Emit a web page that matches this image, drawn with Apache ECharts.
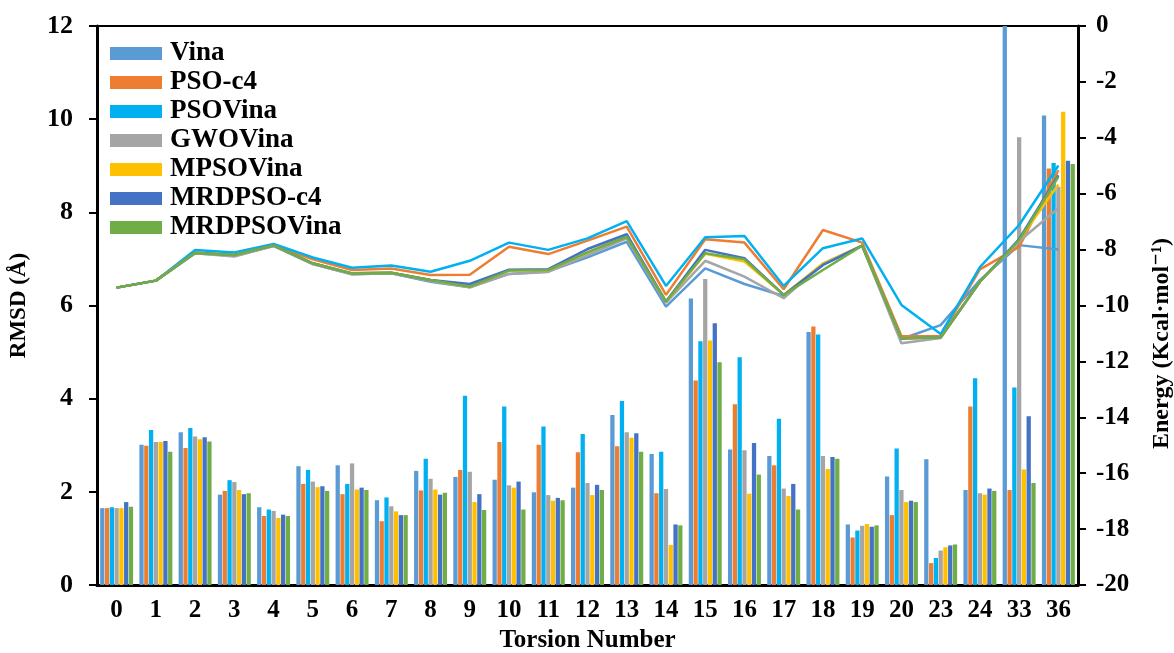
<!DOCTYPE html>
<html>
<head>
<meta charset="utf-8">
<script src="https://cdn.jsdelivr.net/npm/echarts@6/dist/echarts.min.js"></script>
<style>
  html, body { margin: 0; padding: 0; background: #fff; }
  #chart { width: 1174px; height: 653px; }
</style>
</head>
<body>
<div id="chart"></div>
<script>
  // torsion numbers on the x axis
  var torsions = ['0', '1', '2', '3', '4', '5', '6', '7', '8', '9', '10', '11', '12', '13', '14', '15', '16', '17', '18', '19', '20', '23', '24', '33', '36'];
  var methods = ['Vina', 'PSO-c4', 'PSOVina', 'GWOVina', 'MPSOVina', 'MRDPSO-c4', 'MRDPSOVina'];
  var colors = ['#5B9BD5', '#ED7D31', '#00B0F0', '#A5A5A5', '#FFC000', '#4472C4', '#70AD47'];

  // RMSD (bars, left axis)
  var rmsdVina       = [1.65, 3.01, 3.28, 1.94, 1.67, 2.55, 2.57, 1.82, 2.45, 2.32, 2.26, 1.99, 2.09, 3.65, 2.81, 6.15, 2.91, 2.77, 5.43, 1.30, 2.33, 2.70, 2.04, 12.0, 10.08];
  var rmsdPSOc4      = [1.65, 2.99, 2.94, 2.02, 1.48, 2.17, 1.95, 1.37, 2.03, 2.47, 3.07, 3.01, 2.85, 2.98, 1.97, 4.39, 3.88, 2.57, 5.55, 1.02, 1.50, 0.47, 3.83, 2.04, 8.94];
  var rmsdPSOVina    = [1.67, 3.33, 3.37, 2.25, 1.62, 2.47, 2.17, 1.88, 2.71, 4.06, 3.83, 3.40, 3.24, 3.95, 2.86, 5.23, 4.89, 3.57, 5.38, 1.17, 2.93, 0.58, 4.44, 4.24, 9.06];
  var rmsdGWOVina    = [1.65, 3.07, 3.19, 2.21, 1.59, 2.22, 2.61, 1.69, 2.28, 2.43, 2.14, 1.93, 2.19, 3.28, 2.06, 6.57, 2.89, 2.07, 2.77, 1.27, 2.04, 0.74, 1.97, 9.61, 8.55];
  var rmsdMPSOVina   = [1.65, 3.07, 3.13, 2.04, 1.44, 2.10, 2.05, 1.58, 2.05, 1.78, 2.09, 1.81, 1.93, 3.16, 0.86, 5.25, 1.96, 1.91, 2.49, 1.31, 1.78, 0.81, 1.94, 2.48, 10.16];
  var rmsdMRDPSOc4   = [1.78, 3.09, 3.17, 1.95, 1.51, 2.12, 2.09, 1.50, 1.94, 1.95, 2.22, 1.87, 2.15, 3.26, 1.30, 5.62, 3.05, 2.17, 2.75, 1.25, 1.81, 0.85, 2.07, 3.62, 9.11];
  var rmsdMRDPSOVina = [1.68, 2.86, 3.08, 1.97, 1.48, 2.02, 2.04, 1.50, 1.98, 1.61, 1.62, 1.82, 2.04, 2.86, 1.28, 4.78, 2.37, 1.62, 2.71, 1.28, 1.78, 0.87, 2.02, 2.19, 9.04];

  // binding energy (lines, right axis)
  var energyVina       = [-9.36, -9.11, -8.13, -8.22, -7.87, -8.52, -8.88, -8.85, -9.15, -9.35, -8.87, -8.78, -8.28, -7.72, -10.04, -8.67, -9.23, -9.66, -8.55, -7.86, -11.20, -10.70, -9.09, -7.84, -8.00];
  var energyPSOc4      = [-9.36, -9.11, -8.11, -8.19, -7.85, -8.35, -8.73, -8.68, -8.91, -8.90, -7.90, -8.16, -7.68, -7.18, -9.62, -7.63, -7.75, -9.42, -7.30, -7.75, -11.09, -11.10, -8.71, -7.90, -5.16];
  var energyPSOVina    = [-9.36, -9.11, -8.01, -8.10, -7.80, -8.28, -8.65, -8.57, -8.79, -8.40, -7.75, -8.01, -7.60, -6.98, -9.30, -7.56, -7.51, -9.30, -7.95, -7.60, -9.98, -11.02, -8.63, -7.12, -4.99];
  var energyGWOVina    = [-9.36, -9.11, -8.13, -8.25, -7.87, -8.52, -8.88, -8.85, -9.12, -9.35, -8.87, -8.80, -8.20, -7.60, -9.90, -8.40, -8.97, -9.74, -8.50, -7.86, -11.35, -11.16, -9.15, -7.70, -6.52];
  var energyMPSOVina   = [-9.36, -9.11, -8.11, -8.19, -7.85, -8.49, -8.85, -8.83, -9.09, -9.33, -8.75, -8.73, -8.10, -7.50, -9.86, -8.15, -8.43, -9.62, -8.50, -7.86, -11.18, -11.14, -9.15, -7.66, -5.67];
  var energyMRDPSOc4   = [-9.36, -9.11, -8.11, -8.19, -7.85, -8.49, -8.85, -8.83, -9.09, -9.23, -8.72, -8.70, -7.98, -7.45, -9.86, -8.01, -8.31, -9.62, -8.55, -7.86, -11.18, -11.14, -9.15, -7.62, -5.34];
  var energyMRDPSOVina = [-9.36, -9.11, -8.11, -8.19, -7.85, -8.49, -8.85, -8.83, -9.09, -9.33, -8.75, -8.73, -8.10, -7.54, -9.86, -8.13, -8.35, -9.62, -8.73, -7.86, -11.18, -11.14, -9.15, -7.66, -5.40];

  var rmsdAll = [rmsdVina, rmsdPSOc4, rmsdPSOVina, rmsdGWOVina, rmsdMPSOVina, rmsdMRDPSOc4, rmsdMRDPSOVina];
  var energyAll = [energyVina, energyPSOc4, energyPSOVina, energyGWOVina, energyMPSOVina, energyMRDPSOc4, energyMRDPSOVina];

  var font = '"Liberation Serif", "DejaVu Serif", serif';

  var series = [];
  methods.forEach(function (name, i) {
    series.push({
      name: name,
      type: 'bar',
      yAxisIndex: 0,
      data: rmsdAll[i],
      barGap: '12%',
      barCategoryGap: '16%',
      itemStyle: { color: colors[i] }
    });
  });
  methods.forEach(function (name, i) {
    series.push({
      name: name,
      type: 'line',
      yAxisIndex: 1,
      data: energyAll[i],
      symbol: 'none',
      z: 3,
      lineStyle: { color: colors[i], width: 2.5 },
      itemStyle: { color: colors[i] }
    });
  });

  var chart = echarts.init(document.getElementById('chart'));
  chart.setOption({
    animation: false,
    backgroundColor: '#fff',
    grid: {
      left: 97, right: 96, top: 26, bottom: 68,
      outerBoundsMode: 'none',
      containLabel: false,
      show: true, borderColor: '#000', borderWidth: 2
    },
    legend: {
      data: methods,
      orient: 'vertical',
      left: 105, top: 35,
      icon: 'rect',
      itemWidth: 52, itemHeight: 13,
      itemGap: 2,
      textStyle: { fontFamily: font, fontWeight: 'bold', fontSize: 27, color: '#000', padding: [0, 0, 0, 3] }
    },
    xAxis: {
      type: 'category',
      data: torsions,
      name: 'Torsion Number',
      nameLocation: 'middle',
      nameGap: 43,
      nameTextStyle: { fontFamily: font, fontWeight: 'bold', fontSize: 25, color: '#000' },
      axisLine: { lineStyle: { color: '#000', width: 3 } },
      axisTick: { length: 8, lineStyle: { color: '#000', width: 2 } },
      axisLabel: { fontFamily: font, fontWeight: 'bold', fontSize: 25, color: '#000', margin: 13 }
    },
    yAxis: [{
      type: 'value',
      min: 0, max: 12, interval: 2,
      name: 'RMSD (Å)',
      nameLocation: 'middle',
      nameGap: 66,
      nameTextStyle: { fontFamily: font, fontWeight: 'bold', fontSize: 23, color: '#000' },
      axisLine: { show: true, lineStyle: { color: '#000', width: 3 } },
      axisTick: { show: true, length: 8, lineStyle: { color: '#000', width: 2 } },
      axisLabel: { fontFamily: font, fontWeight: 'bold', fontSize: 26, color: '#000', margin: 24 },
      splitLine: { show: false }
    }, {
      type: 'value',
      min: -20, max: 0, interval: 2,
      name: 'Energy (Kcal·mol⁻¹)',
      nameLocation: 'middle',
      nameGap: 72,
      nameRotate: 90,
      nameTextStyle: { fontFamily: font, fontWeight: 'bold', fontSize: 24, color: '#000', padding: [0, 76, 0, 0] },
      axisLine: { show: true, lineStyle: { color: '#000', width: 3 } },
      axisTick: { show: true, length: 8, lineStyle: { color: '#000', width: 2 } },
      axisLabel: { fontFamily: font, fontWeight: 'bold', fontSize: 25, color: '#000', margin: 18 },
      splitLine: { show: false }
    }],
    series: series
  });
</script>
</body>
</html>
